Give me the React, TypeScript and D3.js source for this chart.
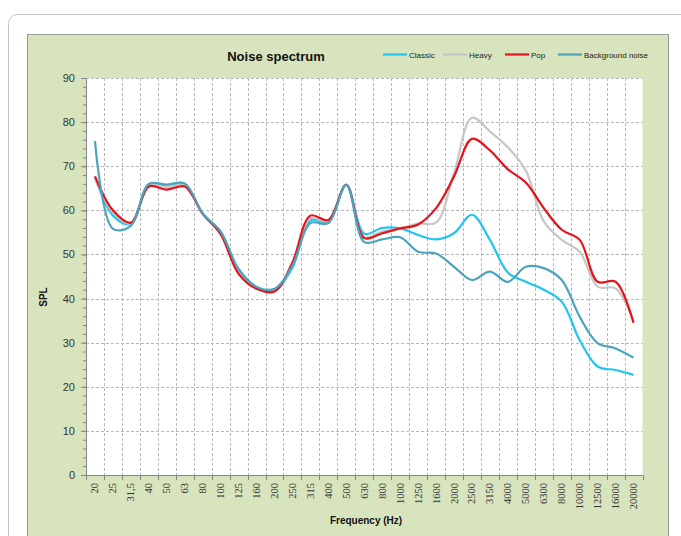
import React, { useEffect, useRef } from 'react';
import * as d3 from 'd3';

const frequencies = ['20', '25', '31,5', '40', '50', '63', '80', '100', '125', '160', '200', '250', '315', '400', '500', '630',
  '800', '1000', '1250', '1600', '2000', '2500', '3150', '4000', '5000', '6300', '8000', '10000', '12500', '16000', '20000'];

const classic = [67.5, 58.8, 56.9, 65.6, 65.8, 66.0, 59.3, 55.0, 46.4, 42.5, 41.9, 47.0, 57.7, 57.5, 65.8, 54.7,
  56.0, 55.9, 54.4, 53.4, 54.8, 59.0, 53.3, 45.9, 43.8, 42.0, 39.3, 30.6, 24.6, 23.8, 22.7];
const heavy = [67.5, 59.5, 57.0, 65.8, 65.2, 65.8, 59.3, 54.8, 46.0, 42.4, 41.8, 47.5, 58.2, 57.5, 65.8, 53.9,
  55.2, 55.9, 57.0, 57.2, 68.4, 81.0, 77.9, 74.3, 69.0, 57.5, 53.3, 50.6, 42.7, 42.3, 35.0];
const pop = [67.7, 60.0, 57.2, 65.4, 64.7, 65.4, 59.2, 54.6, 45.6, 42.2, 41.6, 48.2, 58.8, 57.8, 65.8, 53.7,
  54.8, 55.9, 56.8, 60.5, 67.7, 76.2, 73.6, 69.3, 66.3, 60.5, 55.6, 53.3, 43.8, 43.8, 34.5];
const backgroundNoise = [75.7, 55.8, 56.5, 66.0, 65.8, 66.1, 59.3, 55.2, 46.7, 42.7, 42.2, 47.5, 57.1, 57.1, 65.8, 52.8,
  53.4, 53.9, 50.6, 50.2, 47.2, 44.2, 46.1, 43.8, 47.2, 46.9, 44.2, 35.9, 29.9, 28.7, 26.6];

const seriesNames = ['Classic', 'Heavy', 'Pop', 'Background noise'];
const seriesColors = ['#1fc5ee', '#c6c6c6', '#e5131b', '#4ca4bc'];
const yTicks = [0, 10, 20, 30, 40, 50, 60, 70, 80, 90];

const NoiseSpectrum = () => {
  const ref = useRef(null);

  useEffect(() => {
    draw();
  }, []);

  const draw = () => {
    const svg = d3.select(ref.current);
    svg.selectAll('*').remove();

    const left = 86, right = 642.5, top = 78, bottom = 475;
    const sans = 'Liberation Sans, Arial, sans-serif';

    // outer frame + green chart area
    svg.append('rect').attr('x', 8.5).attr('y', 14.5).attr('width', 720).attr('height', 600).attr('rx', 9)
      .attr('fill', '#fff').attr('stroke', '#c4c4c4');
    svg.append('rect').attr('x', 27.5).attr('y', 34.5).attr('width', 641).attr('height', 540)
      .attr('fill', '#d8e4bd').attr('stroke', '#9c9c9c');
    svg.append('rect').attr('x', left).attr('y', top).attr('width', right - left).attr('height', bottom - top)
      .attr('fill', '#fff');

    const x = d3.scaleBand().domain(frequencies).range([left, right]);
    const cx = (i) => x(frequencies[i]) + x.bandwidth() / 2;
    const y = d3.scaleLinear().domain([0, 90]).range([bottom, top]);

    // grid
    svg.append('g').selectAll('line').data(yTicks.slice(1)).join('line')
      .attr('x1', left).attr('x2', right).attr('y1', d => Math.round(y(d)) + 0.5).attr('y2', d => Math.round(y(d)) + 0.5)
      .attr('stroke', '#b8b8b8').attr('stroke-dasharray', '3,2');
    svg.append('g').selectAll('line').data(frequencies.slice(1)).join('line')
      .attr('x1', d => Math.round(x(d)) + 0.5).attr('x2', d => Math.round(x(d)) + 0.5).attr('y1', top).attr('y2', bottom)
      .attr('stroke', '#b8b8b8').attr('stroke-dasharray', '3,2');

    // y axis
    const yAxis = svg.append('g').attr('transform', `translate(${left},0)`)
      .call(d3.axisLeft(y).tickValues(yTicks).tickSize(5).tickPadding(6).tickSizeOuter(0));
    yAxis.append('g').call(d3.axisLeft(y).tickValues(d3.range(0, 91, 2)).tickSize(3).tickFormat(() => ''));
    yAxis.selectAll('path, line').attr('stroke', '#868686');
    yAxis.selectAll('path').attr('d', `M0.5,${top}V${bottom}`);
    yAxis.selectAll('text').attr('font-family', sans).attr('font-size', 11).attr('fill', '#333');

    // x axis
    const xAxis = svg.append('g');
    xAxis.append('line').attr('x1', left).attr('x2', right).attr('y1', bottom + 0.5).attr('y2', bottom + 0.5)
      .attr('stroke', '#868686');
    xAxis.selectAll('line.tick').data(frequencies.concat(['end'])).join('line').attr('class', 'tick')
      .attr('x1', (d, i) => Math.round(i < frequencies.length ? x(d) : right) + 0.5)
      .attr('x2', (d, i) => Math.round(i < frequencies.length ? x(d) : right) + 0.5)
      .attr('y1', bottom).attr('y2', bottom + 5).attr('stroke', '#868686');
    xAxis.selectAll('text').data(frequencies).join('text')
      .attr('transform', (d, i) => `translate(${cx(i) + 3.5},${bottom + 8}) rotate(-90)`)
      .attr('text-anchor', 'end')
      .attr('font-family', 'Liberation Serif, serif').attr('font-size', 10.5).attr('fill', '#333')
      .text(d => d);

    // series
    const line = d3.line().x((d, i) => cx(i)).y(d => y(d)).curve(d3.curveCatmullRom.alpha(0.5));
    [classic, heavy, pop, backgroundNoise].forEach((values, k) => {
      svg.append('path').attr('d', line(values)).attr('fill', 'none')
        .attr('stroke', seriesColors[k]).attr('stroke-width', 2.2).attr('stroke-linejoin', 'round');
    });

    // titles
    svg.append('text').attr('x', 276).attr('y', 61).attr('text-anchor', 'middle')
      .attr('font-family', sans).attr('font-weight', 'bold').attr('font-size', 13).attr('fill', '#111')
      .text('Noise spectrum');
    svg.append('text').attr('transform', 'translate(47,297) rotate(-90)').attr('text-anchor', 'middle')
      .attr('font-family', sans).attr('font-weight', 'bold').attr('font-size', 10).attr('fill', '#111')
      .text('SPL');
    svg.append('text').attr('x', 366).attr('y', 524).attr('text-anchor', 'middle')
      .attr('font-family', sans).attr('font-weight', 'bold').attr('font-size', 10).attr('fill', '#111')
      .text('Frequency (Hz)');

    // legend
    const legendX = [383, 443, 505, 558];
    seriesNames.forEach((name, k) => {
      const g = svg.append('g').attr('transform', `translate(${legendX[k]},54)`);
      g.append('line').attr('x1', 0).attr('x2', 24).attr('y1', 0.5).attr('y2', 0.5)
        .attr('stroke', seriesColors[k]).attr('stroke-width', 2.2);
      g.append('text').attr('x', 26).attr('y', 3.5).attr('font-family', sans).attr('font-size', 8)
        .attr('fill', '#222').text(name);
    });
  };

  return <svg ref={ref} width="681" height="536" style={{ position: 'absolute', left: 0, top: 0 }}></svg>;
};

export default NoiseSpectrum;
